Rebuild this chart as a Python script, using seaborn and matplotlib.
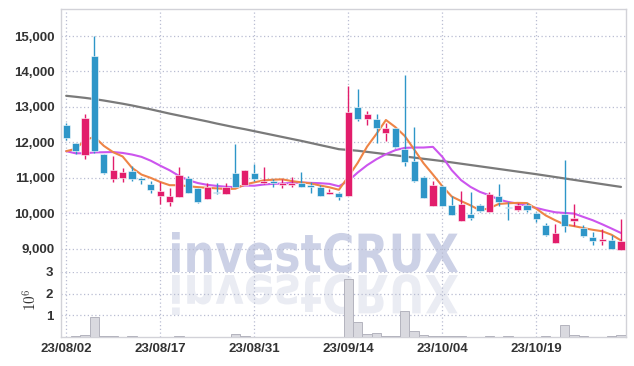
import numpy as np
import pandas as pd
import seaborn as sns
import matplotlib
matplotlib.use("Agg")
import matplotlib.pyplot as plt
from matplotlib.textpath import TextPath
from matplotlib.patches import PathPatch
from matplotlib.font_manager import FontProperties
from matplotlib.transforms import Affine2D, IdentityTransform
from matplotlib.ticker import FuncFormatter

# ---------------- data ----------------
dates = ["23/08/02", "23/08/03", "23/08/04", "23/08/07", "23/08/08", "23/08/09", "23/08/10", "23/08/11",
         "23/08/14", "23/08/16", "23/08/17", "23/08/18", "23/08/21", "23/08/22", "23/08/23", "23/08/24",
         "23/08/25", "23/08/28", "23/08/29", "23/08/30", "23/08/31", "23/09/01", "23/09/04", "23/09/05",
         "23/09/06", "23/09/07", "23/09/08", "23/09/11", "23/09/12", "23/09/13", "23/09/14", "23/09/15",
         "23/09/18", "23/09/19", "23/09/20", "23/09/21", "23/09/22", "23/09/25", "23/09/26", "23/09/27",
         "23/10/04", "23/10/05", "23/10/06", "23/10/10", "23/10/11", "23/10/12", "23/10/13", "23/10/16",
         "23/10/17", "23/10/18", "23/10/19", "23/10/20", "23/10/23", "23/10/24", "23/10/25", "23/10/26",
         "23/10/27", "23/10/30", "23/10/31", "23/11/01"]

opens = [12485, 11967, 11656, 14435, 11665, 10958, 11006, 11185, 10995, 10826,
         10486, 10317, 10458, 10987, 10704, 10413, 10600, 10554, 11128, 10808,
         11147, 10845, 10900, 10800, 10798, 10854, 10770, 10741, 10543, 10582,
         10486, 12993, 12663, 12654, 12267, 12400, 11815, 11467, 11015, 10195,
         10780, 10223, 9780, 9989, 10223, 10045, 10498, 10160, 10082, 10223,
         10000, 9658, 9158, 9969, 9780, 9573, 9319, 9220, 9234, 8972]

highs = [12533, 11980, 12787, 15000, 11680, 11617, 11280, 11330, 11030, 10910,
         10880, 10710, 11290, 11043, 10710, 10865, 10855, 10840, 11947, 11220,
         11374, 11290, 10975, 10978, 11024, 11156, 10874, 10800, 10695, 10590,
         13600, 13493, 12889, 12787, 12550, 12410, 13898, 12419, 11060, 10900,
         10790, 10486, 10628, 10600, 10270, 10600, 10837, 10317, 10290, 10280,
         10030, 9710, 9706, 11495, 10271, 9658, 9460, 9565, 9375, 9847]

lows = [12060, 11665, 11515, 11700, 11100, 10882, 10880, 10920, 10810, 10580,
        10270, 10195, 10458, 10560, 10290, 10413, 10550, 10554, 10741, 10800,
        10920, 10830, 10740, 10713, 10730, 10730, 10571, 10486, 10543, 10373,
        10486, 12606, 12476, 11985, 12032, 11840, 11334, 10880, 10420, 10195,
        10200, 9950, 9780, 9800, 10030, 10045, 10204, 9800, 10060, 10030,
        9762, 9347, 9158, 9469, 9630, 9330, 9112, 9112, 8980, 8972]

closes = [12109, 11750, 12674, 11758, 11137, 11213, 11156, 10958, 10925, 10656,
          10619, 10478, 11071, 10571, 10308, 10741, 10563, 10732, 10741, 11213,
          10958, 10900, 10855, 10845, 10865, 10741, 10741, 10486, 10600, 10458,
          12843, 12654, 12795, 12400, 12400, 11854, 11447, 10910, 10430, 10789,
          10204, 9960, 10271, 9865, 10062, 10534, 10317, 10135, 10223, 10090,
          9828, 9375, 9452, 9638, 9856, 9356, 9214, 9240, 9000, 9206]

volumes = [10000, 30000, 80000, 910000, 50000, 40000, 20000, 30000, 10000, 10000,
           10000, 10000, 30000, 10000, 10000, 10000, 10000, 10000, 140000, 50000,
           20000, 10000, 10000, 10000, 10000, 10000, 10000, 10000, 10000, 10000,
           2700000, 680000, 140000, 180000, 40000, 30000, 1200000, 280000, 90000, 50000,
           30000, 30000, 30000, 10000, 10000, 30000, 10000, 30000, 10000, 10000,
           10000, 30000, 10000, 540000, 80000, 50000, 10000, 10000, 30000, 80000]

ma5 = [11750, 11815, 12060, 12155, 11900, 11720, 11600, 11280, 11090, 10995,
       10880, 10790, 10789, 10760, 10735, 10715, 10700, 10680, 10690, 10810,
       10870, 10925, 10945, 10955, 10905, 10870, 10840, 10780, 10730, 10660,
       11030, 11420, 11880, 12240, 12630, 12430, 12180, 11800, 11410, 11090,
       10760, 10470, 10340, 10220, 10080, 10140, 10260, 10280, 10290, 10285,
       10125, 9935, 9800, 9680, 9635, 9580, 9530, 9490, 9390, 9230]

ma10 = [11750, 11690, 11690, 11715, 11720, 11725, 11700, 11655, 11590, 11480,
        11340, 11210, 11052, 10930, 10850, 10800, 10770, 10745, 10735, 10780,
        10775, 10808, 10827, 10837, 10855, 10865, 10855, 10846, 10827, 10760,
        10910, 11147, 11354, 11524, 11665, 11778, 11843, 11853, 11853, 11872,
        11590, 11213, 10930, 10741, 10600, 10506, 10384, 10317, 10271, 10204,
        10147, 10082, 10025, 10006, 9989, 9893, 9800, 9686, 9565, 9440]

ma_long = [13313, 13285, 13255, 13220, 13180, 13135, 13090, 13040, 12985, 12930,
           12870, 12810, 12755, 12700, 12645, 12590, 12530, 12475, 12420, 12370,
           12315, 12260, 12205, 12150, 12095, 12041, 11982, 11923, 11865, 11806,
           11785, 11762, 11730, 11698, 11665, 11633, 11600, 11568, 11535, 11503,
           11470, 11433, 11396, 11359, 11322, 11285, 11248, 11211, 11174, 11137,
           11100, 11060, 11020, 10980, 10940, 10900, 10860, 10820, 10780, 10741]

date_ticks = ["23/08/02", "23/08/17", "23/08/31", "23/09/14", "23/10/04", "23/10/19"]
price_ticks = [9000, 10000, 11000, 12000, 13000, 14000, 15000]
volume_ticks = [1, 2, 3]

# ---------------- styling ----------------
sns.set_style("white")
plt.rcParams['font.family'] = ['Liberation Sans', 'DejaVu Sans']
plt.rcParams['mathtext.fontset'] = 'cm'

UP = '#e21d6b'
DOWN = '#2e96c8'
GRID = '#b9bdd2'
SPINE = '#d2d2d8'
TXT = '#333333'

df = pd.DataFrame({"date": dates, "open": opens, "high": highs, "low": lows,
                   "close": closes, "volume": volumes,
                   "ma5": ma5, "ma10": ma10, "ma_long": ma_long})
df["idx"] = np.arange(len(df))
df["vol_m"] = df["volume"] / 1e6

W, H = 634, 366
fig = plt.figure(figsize=(W / 100, H / 100), dpi=100)
left, right = 61.5, 625.7
axp = fig.add_axes([left / W, 1 - 272 / H, (right - left) / W, (272 - 9.3) / H])
axv = fig.add_axes([left / W, 1 - 337 / H, (right - left) / W, 65 / H])
for a in (axp, axv):
    a.set_facecolor('none')

# ---------------- watermark ----------------
fp = FontProperties(family='DejaVu Sans', weight='bold')
tp = TextPath((0, 0), "investCRUX", size=100, prop=fp)
bb = tp.get_extents()
x0, x1 = 172, 458
ytop, ybase = H - 232, H - 272
sx = (x1 - x0) / bb.width
sy = (ytop - ybase) / (bb.y1 - 0)
main_path = Affine2D().translate(-bb.x0, 0).scale(sx, sy).translate(x0, ybase).transform_path(tp)
refl_path = Affine2D().translate(-bb.x0, 0).scale(sx, -sy).translate(x0, ybase - 3).transform_path(tp)
fig.add_artist(PathPatch(main_path, transform=IdentityTransform(), facecolor='#ccd1e6',
                         edgecolor='none', zorder=-1))
fig.add_artist(PathPatch(refl_path, transform=IdentityTransform(), facecolor='#eaecf3',
                         edgecolor='none', zorder=-1))

# ---------------- moving averages ----------------
sns.lineplot(data=df, x="idx", y="ma_long", ax=axp, color='#7a7a7a', lw=1.6, zorder=2)
sns.lineplot(data=df, x="idx", y="ma10", ax=axp, color='#cc55ee', lw=1.5, zorder=2)
sns.lineplot(data=df, x="idx", y="ma5", ax=axp, color='#ee8446', lw=1.5, zorder=2)

# ---------------- candles ----------------
up = df["close"] >= df["open"]
cols = np.where(up, UP, DOWN)
axp.vlines(df["idx"], df["low"], df["high"], colors=cols, lw=1.0, zorder=3)
body_lo = np.minimum(df["open"], df["close"])
body_h = np.maximum(np.abs(df["close"] - df["open"]), 45)
axp.bar(df["idx"], body_h, bottom=body_lo, width=0.76, color=cols, edgecolor='white',
        linewidth=0.4, zorder=4)

# ---------------- volume ----------------
sns.barplot(data=df, x="idx", y="vol_m", ax=axv, native_scale=True, width=1.0,
            color='#d9d9df', edgecolor='#b4b4be', linewidth=0.7, errorbar=None,
            saturation=1, zorder=3)

# ---------------- axes formatting ----------------
n = len(df)
tick_idx = [dates.index(d) for d in date_ticks]
for a in (axp, axv):
    a.set_xlim(-0.5, n - 0.5)
    a.set_xticks(tick_idx)
    a.grid(True, color=GRID, linestyle=(0, (1, 2)), lw=0.9)
    a.set_axisbelow(True)
    a.tick_params(length=0, colors=TXT, labelsize=9.5)
    a.set_xlabel("")
    a.set_ylabel("")
    for s in a.spines.values():
        s.set_color(SPINE)
        s.set_linewidth(1.0)

axp.set_ylim(8339, 15755)
axp.set_yticks(price_ticks)
axp.yaxis.set_major_formatter(FuncFormatter(lambda v, p: f"{int(v):,}"))
axp.set_xticklabels([])
axp.spines['bottom'].set_visible(False)

axv.set_ylim(0, 3)
axv.set_yticks(volume_ticks)
axv.set_yticklabels([str(v) for v in volume_ticks])
axv.set_xticklabels(date_ticks)
axv.spines['top'].set_visible(False)

for lab in axp.get_yticklabels() + axv.get_yticklabels() + axv.get_xticklabels():
    lab.set_fontweight('bold')
    lab.set_color(TXT)
axp.tick_params(axis='y', pad=5)
axv.tick_params(axis='y', pad=6)
axv.tick_params(axis='x', pad=4)

fig.text(31 / W, 1 - 300 / H, r"$10^6$", rotation=90, ha='center', va='center',
         fontsize=11, color=TXT)

fig.savefig("out.png", dpi=100)
